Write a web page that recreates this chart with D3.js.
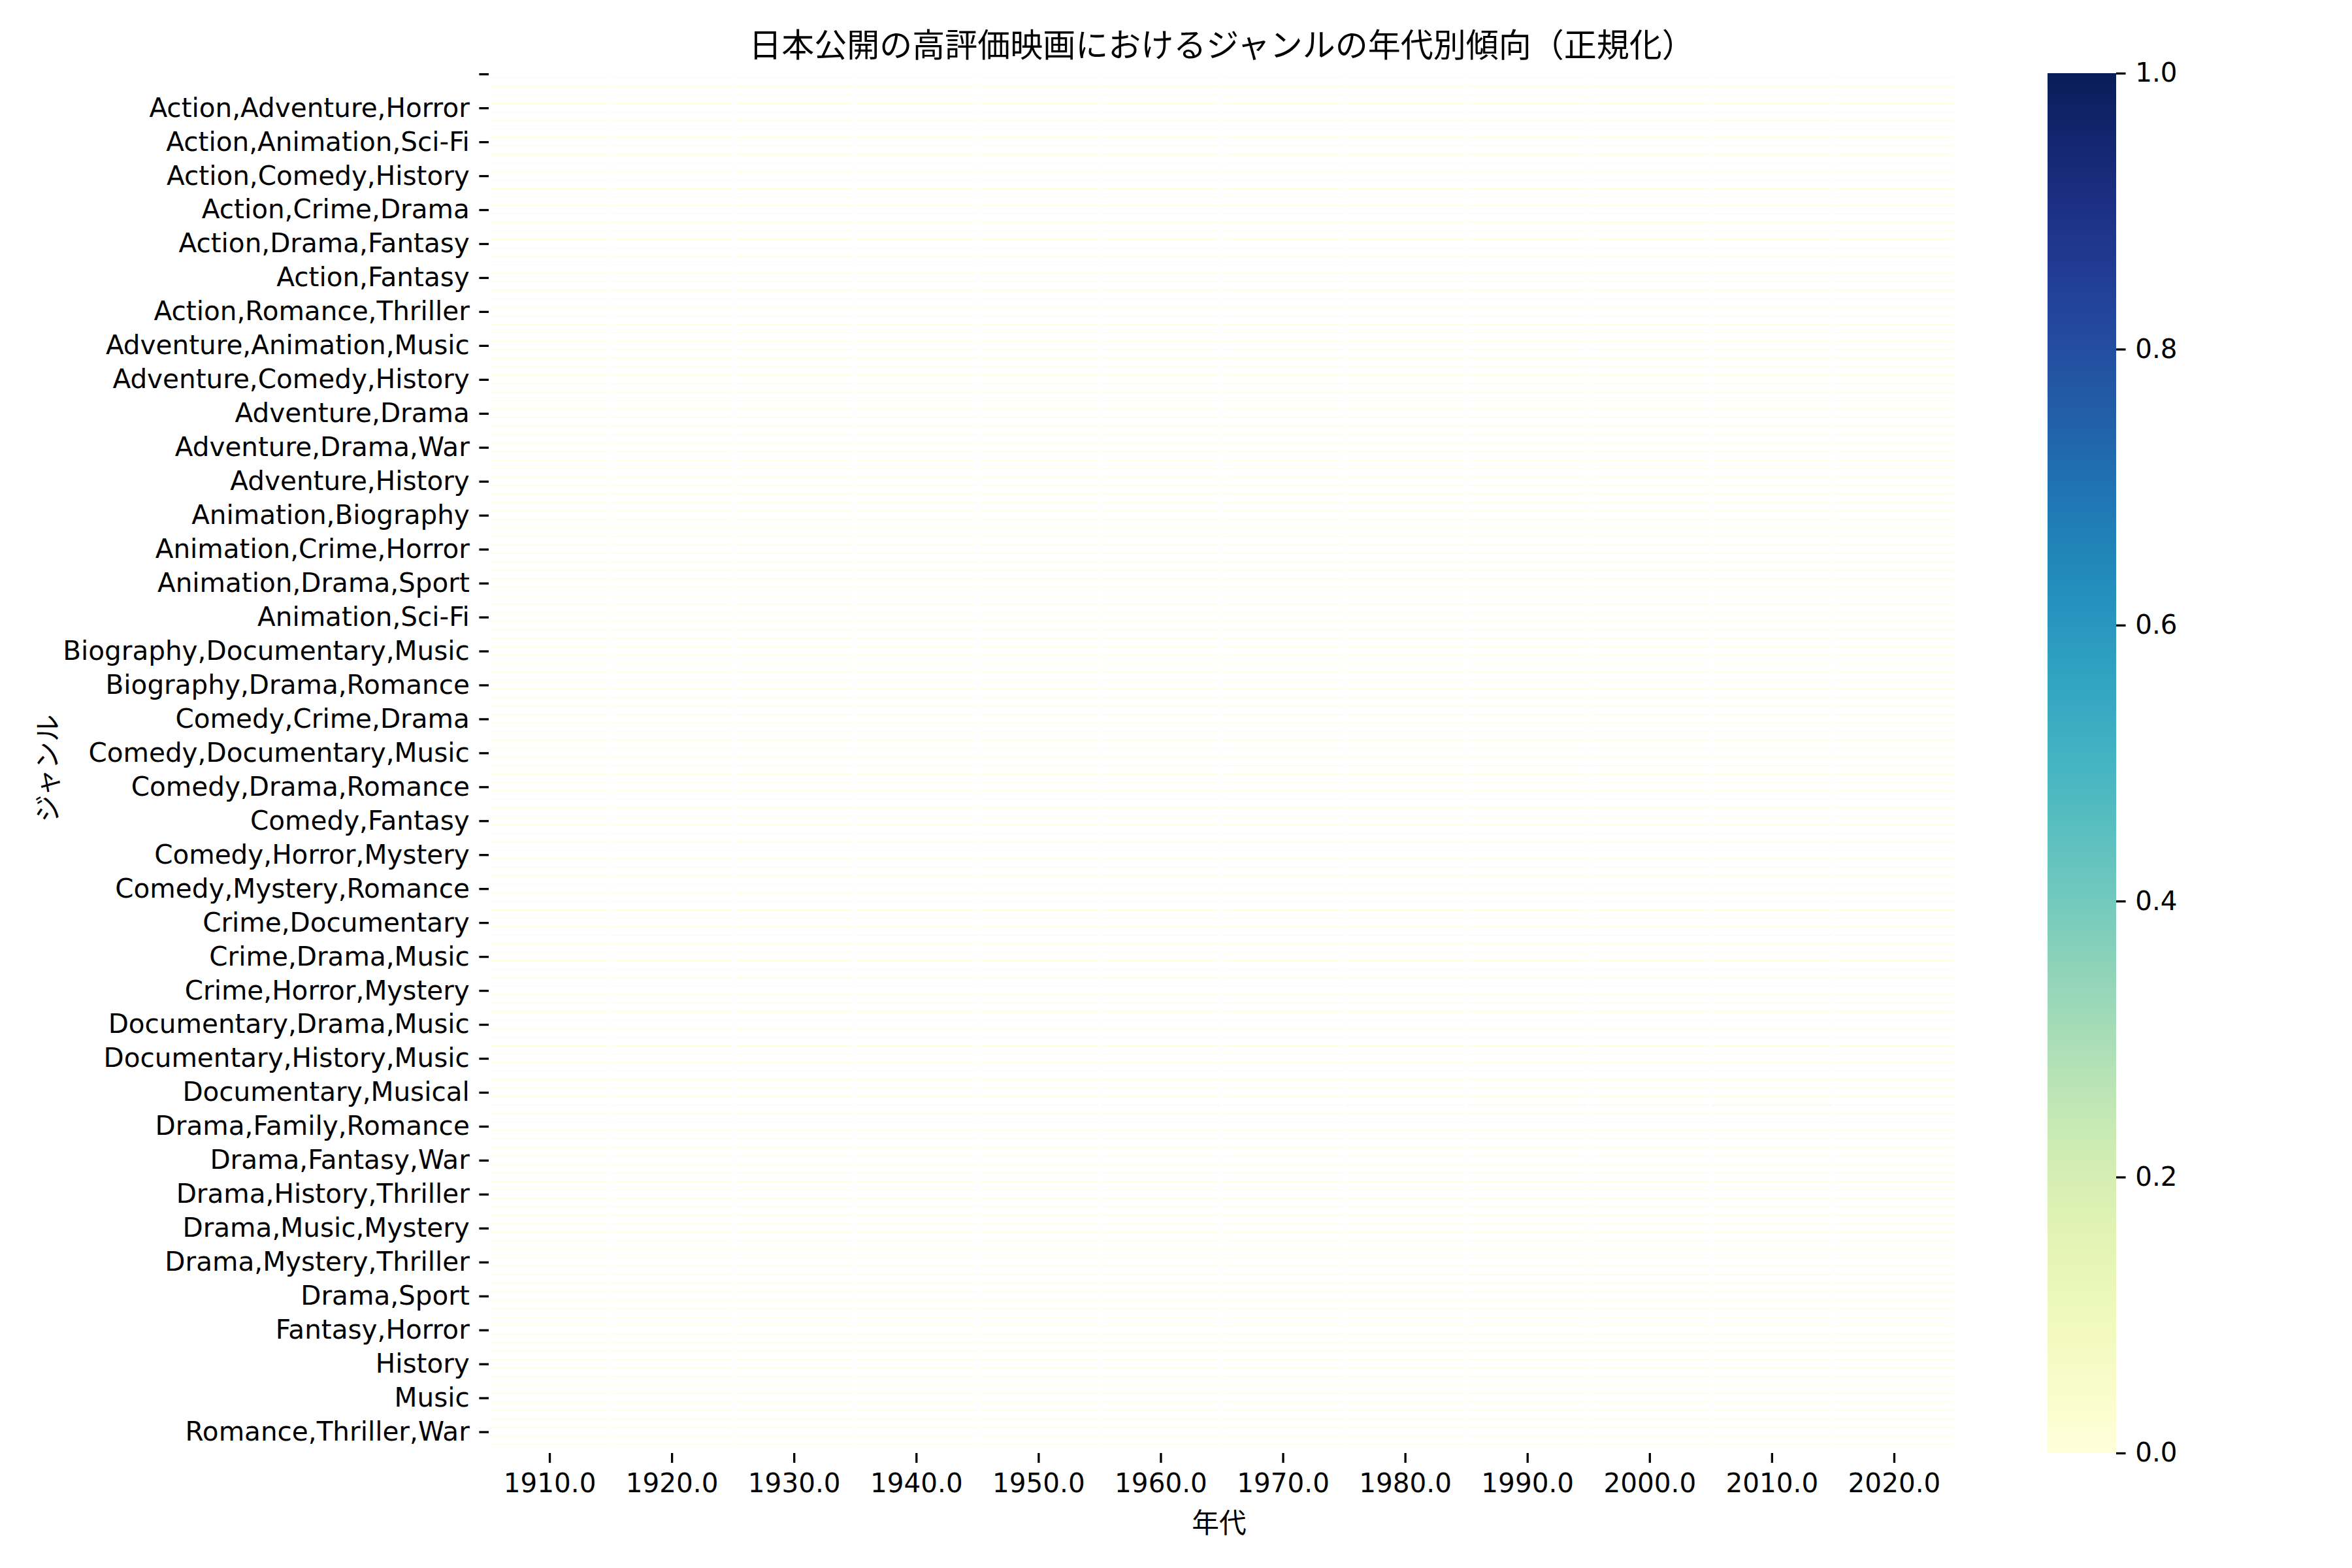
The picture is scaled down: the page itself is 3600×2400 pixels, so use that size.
<!DOCTYPE html>
<html><head><meta charset="utf-8">
<script src="https://cdn.jsdelivr.net/npm/d3@7"></script>
<style>body{margin:0;background:#fff} svg{display:block}</style>
</head><body>
<svg id="chart" width="3600" height="2400"></svg>
<script>
const title = "日本公開の高評価映画におけるジャンルの年代別傾向（正規化）";
const xLabel = "年代";
const yLabel = "ジャンル";
const decades = [1910,1920,1930,1940,1950,1960,1970,1980,1990,2000,2010,2020];
const genres = [
"","Action","Action,Adventure","Action,Adventure,Comedy",
"Action,Adventure,Horror","Action,Adventure,Sci-Fi","Action,Animation","Action,Animation,Drama",
"Action,Animation,Sci-Fi","Action,Biography,Drama","Action,Comedy","Action,Comedy,Crime",
"Action,Comedy,History","Action,Comedy,Romance","Action,Comedy,Thriller","Action,Crime",
"Action,Crime,Drama","Action,Crime,Thriller","Action,Drama","Action,Drama,Family",
"Action,Drama,Fantasy","Action,Drama,History","Action,Drama,Thriller","Action,Drama,War",
"Action,Fantasy","Action,Horror,Sci-Fi","Action,Mystery,Thriller","Action,Romance",
"Action,Romance,Thriller","Action,Sci-Fi","Action,Thriller","Adventure,Animation,Comedy",
"Adventure,Animation,Music","Adventure,Animation,Sci-Fi","Adventure,Biography,Drama","Adventure,Comedy,Drama",
"Adventure,Comedy,History","Adventure,Comedy,Romance","Adventure,Crime,Drama","Adventure,Documentary",
"Adventure,Drama","Adventure,Drama,Fantasy","Adventure,Drama,History","Adventure,Drama,Romance",
"Adventure,Drama,War","Adventure,Drama,Western","Adventure,Family,Fantasy","Adventure,Fantasy",
"Adventure,History","Adventure,Sci-Fi","Adventure,Thriller","Animation",
"Animation,Biography","Animation,Comedy","Animation,Comedy,Drama","Animation,Crime",
"Animation,Crime,Horror","Animation,Drama","Animation,Drama,Fantasy","Animation,Drama,Romance",
"Animation,Drama,Sport","Animation,Drama,War","Animation,Family","Animation,Fantasy",
"Animation,Sci-Fi","Biography","Biography,Comedy,Drama","Biography,Crime,Drama",
"Biography,Documentary,Music","Biography,Drama","Biography,Drama,History","Biography,Drama,Music",
"Biography,Drama,Romance","Biography,Drama,Sport","Comedy","Comedy,Crime",
"Comedy,Crime,Drama","Comedy,Crime,Mystery","Comedy,Documentary","Comedy,Documentary,Drama",
"Comedy,Documentary,Music","Comedy,Drama","Comedy,Drama,Family","Comedy,Drama,Music",
"Comedy,Drama,Romance","Comedy,Drama,War","Comedy,Family","Comedy,Family,Fantasy",
"Comedy,Fantasy","Comedy,Fantasy,Horror","Comedy,Horror","Comedy,Horror,Musical",
"Comedy,Horror,Mystery","Comedy,Music","Comedy,Musical","Comedy,Musical,Romance",
"Comedy,Mystery,Romance","Comedy,Romance","Comedy,Sci-Fi","Crime",
"Crime,Documentary","Crime,Drama","Crime,Drama,Film-Noir","Crime,Drama,History",
"Crime,Drama,Music","Crime,Drama,Mystery","Crime,Drama,Thriller","Crime,Horror",
"Crime,Horror,Mystery","Crime,Mystery,Thriller","Crime,Thriller","Documentary",
"Documentary,Drama,Music","Documentary,Drama,War","Documentary,Family","Documentary,History",
"Documentary,History,Music","Documentary,Horror","Documentary,Music","Documentary,Music,War",
"Documentary,Musical","Drama","Drama,Family","Drama,Family,Music",
"Drama,Family,Romance","Drama,Family,Sport","Drama,Fantasy","Drama,Fantasy,Horror",
"Drama,Fantasy,War","Drama,History","Drama,History,Music","Drama,History,Romance",
"Drama,History,Thriller","Drama,History,War","Drama,Horror","Drama,Music",
"Drama,Music,Mystery","Drama,Music,Romance","Drama,Musical","Drama,Mystery",
"Drama,Mystery,Thriller","Drama,Romance","Drama,Romance,War","Drama,Sci-Fi",
"Drama,Sport","Drama,Thriller","Drama,War","Fantasy",
"Fantasy,Horror","Fantasy,Mystery","Fantasy,Romance","Film-Noir",
"History","Horror","Horror,Mystery","Horror,Sci-Fi",
"Music","Musical","Mystery","Romance",
"Romance,Thriller,War","Western"
];
// normalized share per decade (one array per decade, one value per genre row)
const v1910 = [
0,0,0,0,0,0,0,0,0,0,0,0,0,0,0,0,0,0,
0,0,0,0,0,0,0,0,0,0,0,0,0,0,0,0,0,0,
0,0,0,0,0,0,0,0,0,0,0,0,0,0,0,0,0,0,
0,0,0,0,0,0,0,0,0,0,0,0,0,0,0,0,0,0,
0,0,0,0,0,0,0,0,0,0,0,0,0,0,0,0,0,0,
0,0,0,0,0,0,0,0,0,0,0,0,0,0,0,0,0,0,
0,0,0,0,0,0,0,0,0,0,0,0,0,0.01,0,0,0,0,
0,0,0,0,0,0,0,0,0,0,0,0,0,0,0,0,0,0,
0,0,0,0,0,0,0,0,0,0,0,0,0,0,0,0,0,0];
const v1920 = [
0,0,0,0,0,0,0,0,0,0,0,0,0,0,0,0,0,0,
0,0,0,0,0,0,0,0,0,0,0,0,0,0,0,0,0,0,
0,0,0,0,0,0,0,0,0,0,0,0,0,0,0,0,0,0,
0,0,0,0,0,0,0,0,0,0,0,0,0,0,0,0,0,0,
0,0,0,0,0,0,0,0,0,0,0,0,0,0,0,0,0,0,
0,0,0,0,0,0,0,0,0,0,0,0.01,0,0,0,0,0,0,
0,0,0,0,0,0,0,0,0,0,0,0,0,0.01,0,0,0,0,
0,0,0,0,0,0,0,0,0,0,0,0,0,0,0,0,0,0,
0,0,0,0,0,0,0,0,0,0,0,0,0,0,0,0,0,0];
const v1930 = [
0,0,0,0,0,0,0,0,0,0,0,0,0,0,0,0,0,0,
0,0,0,0,0,0,0,0,0,0,0,0,0,0,0,0,0,0,
0,0,0,0,0,0,0,0,0,0,0,0,0,0,0,0,0,0,
0,0,0,0,0,0,0,0,0,0,0,0,0,0,0,0,0,0,
0,0,0,0,0,0,0,0,0,0,0,0,0.01,0,0,0,0,0,
0,0,0,0,0,0,0,0,0,0,0,0,0,0,0,0,0,0,
0,0,0,0,0,0,0,0,0,0,0,0,0,0.02,0,0,0,0,
0,0,0,0,0,0,0,0,0,0,0,0,0,0,0,0,0,0,
0,0,0,0,0,0,0,0,0,0,0,0,0,0,0,0,0,0];
const v1940 = [
0,0,0,0,0,0,0,0,0,0,0,0,0,0,0,0,0,0,
0,0,0,0,0,0,0,0,0,0,0,0,0,0,0,0,0,0,
0,0,0,0,0,0,0,0,0,0,0,0,0,0,0,0,0,0,
0,0,0,0,0,0,0,0,0,0,0,0,0,0,0,0,0,0,
0,0,0,0,0,0,0,0,0,0,0,0,0,0,0,0,0,0,
0,0,0,0,0,0,0,0,0,0,0,0.01,0,0,0,0,0,0,
0,0,0,0,0,0,0,0,0,0,0,0,0,0.02,0,0,0,0,
0,0,0,0,0,0,0,0,0,0,0,0,0,0,0,0.01,0,0,
0,0,0,0,0,0,0,0,0,0,0,0,0,0,0,0,0,0];
const v1950 = [
0,0,0,0,0,0,0,0,0,0,0,0,0,0,0,0,0,0,
0,0,0,0,0,0,0,0,0,0,0,0,0,0,0,0,0,0,
0,0,0,0,0,0,0,0,0,0,0,0,0,0,0,0,0,0,
0,0,0,0,0,0,0,0,0,0,0,0,0,0,0,0,0,0,
0,0,0,0,0,0,0,0,0,0,0,0,0.01,0,0,0,0,0,
0,0,0,0,0,0,0,0,0,0,0,0.02,0,0,0,0,0,0,
0,0,0,0,0,0,0,0,0,0,0,0,0,0.03,0,0,0,0,
0,0,0,0,0,0,0,0,0,0,0,0,0,0,0,0.01,0,0,
0,0,0,0,0,0,0,0,0,0,0,0,0,0,0,0,0,0];
const v1960 = [
0,0,0,0,0,0,0,0,0,0,0,0,0,0,0,0,0,0,
0,0,0,0,0,0,0,0,0,0,0,0,0,0,0,0,0,0,
0,0,0,0,0,0,0,0,0,0,0,0,0,0,0,0,0,0,
0,0,0,0,0,0,0,0,0,0,0,0,0,0,0,0,0,0,
0,0,0,0,0,0,0,0,0,0,0,0,0,0,0,0,0,0,
0,0,0,0,0,0,0,0,0,0,0,0.02,0,0,0,0,0.01,0,
0,0,0,0,0,0,0,0,0,0,0,0,0,0.03,0,0,0,0,
0,0,0,0,0,0,0,0,0,0,0,0,0,0,0,0,0,0,
0,0,0,0,0,0,0,0,0,0,0,0,0,0,0,0,0,0];
const v1970 = [
0,0,0,0,0,0,0,0,0,0,0,0,0,0,0,0,0,0,
0,0,0,0,0,0,0,0,0,0,0,0,0,0,0,0,0,0,
0,0,0,0,0,0,0,0,0,0,0,0,0,0,0,0,0,0,
0,0,0,0,0,0,0,0,0,0,0,0,0,0,0,0,0,0,
0,0,0,0,0,0,0,0,0,0.01,0,0,0,0,0,0,0,0,
0,0,0,0,0,0,0,0,0,0,0,0.02,0,0,0,0,0,0,
0,0,0,0,0,0,0,0,0,0,0,0,0,0.03,0,0,0,0,
0,0,0,0,0,0,0,0,0,0,0,0,0,0,0,0,0,0,
0,0,0,0,0,0,0,0,0,0,0,0,0,0,0,0,0,0];
const v1980 = [
0,0,0,0,0,0,0,0,0,0,0,0,0,0,0,0,0,0,
0,0,0,0,0,0,0,0,0,0,0,0,0,0,0,0,0,0,
0,0,0,0,0,0,0,0,0,0,0,0,0,0,0,0,0,0,
0,0,0,0,0,0,0,0,0,0,0,0,0,0,0,0,0,0,
0,0,0,0,0,0,0,0,0,0.01,0,0,0,0,0,0,0,0,
0,0,0,0,0,0,0,0,0,0,0,0.02,0,0,0,0,0,0,
0,0,0,0,0,0,0,0,0,0,0,0,0,0.03,0,0,0,0,
0,0,0,0,0,0,0,0,0,0,0,0,0,0,0,0.01,0,0,
0,0,0,0,0,0,0,0,0,0,0,0,0,0,0,0,0,0];
const v1990 = [
0,0,0,0,0,0,0,0,0,0,0,0,0,0,0,0,0,0,
0,0,0,0,0,0,0,0,0,0,0,0,0,0,0,0,0,0,
0,0,0,0,0,0,0,0,0,0,0,0,0,0,0,0,0,0,
0,0,0,0,0,0,0,0,0,0,0,0,0,0,0,0,0,0,
0,0,0,0,0,0,0,0,0,0.02,0,0,0.01,0,0,0,0,0,
0,0,0,0,0,0,0,0,0,0,0,0.03,0,0,0,0,0,0,
0,0,0,0,0,0,0,0,0,0,0,0,0,0.04,0,0,0,0,
0,0,0,0,0,0,0,0,0,0,0,0,0,0,0,0.02,0,0,
0,0,0,0,0,0,0,0,0,0,0,0,0,0,0,0,0,0];
const v2000 = [
0,0,0,0,0,0,0,0,0,0,0,0,0,0,0,0,0,0.01,
0,0,0,0,0,0,0,0,0,0,0,0,0,0,0,0,0,0,
0,0,0,0,0,0,0,0,0,0,0,0,0,0,0,0,0,0,
0,0,0,0,0,0,0,0,0,0,0,0,0,0,0,0,0,0,
0,0,0,0,0,0,0,0,0,0.02,0,0,0,0,0,0,0,0,
0,0,0,0,0,0,0,0,0,0,0,0.03,0,0,0,0,0,0,
0,0,0,0,0,0,0,0,0,0,0,0,0,0.04,0,0,0,0,
0,0,0,0,0,0,0,0,0,0,0,0,0,0,0,0.02,0,0,
0,0,0,0,0,0,0,0,0,0,0,0,0,0,0,0,0,0];
const v2010 = [
0,0,0,0,0,0.01,0,0,0,0,0,0,0,0,0,0,0.02,0,
0,0,0,0,0,0,0,0,0,0,0,0,0,0,0,0,0,0,
0,0,0,0,0,0,0,0,0,0,0,0,0,0,0,0,0,0,
0,0,0,0,0,0,0,0,0,0,0,0,0,0,0,0,0,0,
0,0,0,0,0,0,0,0,0,0.02,0,0,0,0,0,0,0,0,
0,0,0,0,0,0,0,0,0,0,0,0.03,0,0,0,0,0,0,
0,0,0,0,0,0,0,0,0,0,0,0,0,0.05,0,0,0,0,
0,0,0,0,0,0,0,0,0,0,0,0,0,0,0,0.02,0,0,
0,0,0,0,0,0,0,0,0,0,0,0,0,0,0,0,0,0];
const v2020 = [
0,0,0,0,0,0,0,0,0,0,0,0,0,0,0,0,0.01,0,
0,0,0,0,0,0,0,0,0,0,0,0,0,0,0,0,0,0,
0,0,0,0,0,0,0,0,0,0,0,0,0,0,0,0,0,0,
0,0,0,0,0,0,0,0,0,0,0,0,0,0,0,0,0,0,
0,0,0,0,0,0,0,0,0,0,0,0,0,0,0,0,0,0,
0,0,0,0,0,0,0,0,0,0,0,0.02,0,0,0,0,0,0,
0,0,0,0,0,0,0,0,0,0,0,0,0,0.03,0,0,0,0,
0,0,0,0,0,0,0,0,0,0,0,0,0,0,0,0,0,0,
0,0,0,0,0,0,0,0,0,0,0,0,0,0,0,0,0,0];
const colorbarTicks = [0.0, 0.2, 0.4, 0.6, 0.8, 1.0];
const yLabelEvery = 4;

// ---------- drawing ----------
const series = [v1910,v1920,v1930,v1940,v1950,v1960,v1970,v1980,v1990,v2000,v2010,v2020];
const cells = [];
genres.forEach((g, i) => decades.forEach((d, j) => cells.push({g, d, v: series[j][i]})));

const LATIN = "'DejaVu Sans', 'Noto Sans CJK JP', sans-serif";
const CJK = "'Noto Sans CJK JP', 'DejaVu Sans', sans-serif";
const FS = 40.5;

const svg = d3.select("#chart");
svg.append("rect").attr("width", 3600).attr("height", 2400).attr("fill", "#fff");

const plot = {left: 748, right: 2993, top: 107.2, bottom: 2211.5, axisY: 2224};

const x = d3.scaleBand().domain(decades).range([plot.left, plot.right])
  .paddingInner(0.027).paddingOuter(0.0135);
const y = d3.scaleBand().domain(genres).range([plot.top, plot.bottom]);
const color = d3.scaleSequential(d3.interpolateYlGnBu).domain([0, 1]);

svg.append("g").selectAll("rect").data(cells).join("rect")
  .attr("x", d => x(d.d))
  .attr("width", x.bandwidth())
  .attr("y", d => y(d.g) + y.bandwidth() - 1.2)
  .attr("height", 1.2)
  .attr("fill", d => color(d.v));

// x axis
const xAxis = svg.append("g").attr("transform", `translate(0,${plot.axisY})`)
  .call(d3.axisBottom(x).tickSize(15).tickPadding(16).tickFormat(d => d.toFixed(1)));
xAxis.select(".domain").remove();
xAxis.selectAll(".tick line").attr("stroke", "#000").attr("stroke-width", 3.3);
xAxis.selectAll(".tick text").attr("font-family", LATIN).attr("font-size", FS).attr("fill", "#000");

// y axis
const yAxis = svg.append("g").attr("transform", `translate(${plot.left},0)`)
  .call(d3.axisLeft(y).tickValues(genres.filter((g, i) => i % yLabelEvery === 0))
    .tickSize(14.6).tickPadding(14.6));
yAxis.select(".domain").remove();
yAxis.selectAll(".tick line").attr("stroke", "#000").attr("stroke-width", 3.3);
yAxis.selectAll(".tick text").attr("font-family", LATIN).attr("font-size", FS).attr("fill", "#000");

// colorbar
const cb = {left: 3134, right: 3239, top: 112, bottom: 2224};
const defs = svg.append("defs");
const grad = defs.append("linearGradient").attr("id", "cbgrad")
  .attr("x1", 0).attr("y1", 1).attr("x2", 0).attr("y2", 0);
d3.range(0, 1.0001, 0.02).forEach(t => grad.append("stop")
  .attr("offset", t).attr("stop-color", color(t)));
svg.append("rect").attr("x", cb.left).attr("y", cb.top)
  .attr("width", cb.right - cb.left).attr("height", cb.bottom - cb.top)
  .attr("fill", "url(#cbgrad)");
const cy = d3.scaleLinear().domain([0, 1]).range([cb.bottom, cb.top]);
const cAxis = svg.append("g").attr("transform", `translate(${cb.right},0)`)
  .call(d3.axisRight(cy).tickValues(colorbarTicks).tickSize(14.6).tickPadding(14.6)
    .tickFormat(d3.format(".1f")));
cAxis.select(".domain").remove();
cAxis.selectAll(".tick line").attr("stroke", "#000").attr("stroke-width", 3.3);
cAxis.selectAll(".tick text").attr("font-family", LATIN).attr("font-size", FS).attr("fill", "#000");

// labels
svg.append("text").attr("x", 1870).attr("y", 87).attr("text-anchor", "middle")
  .attr("font-family", CJK).attr("font-size", 50).attr("fill", "#000").text(title);
svg.append("text").attr("x", 1866).attr("y", 2346).attr("text-anchor", "middle")
  .attr("font-family", CJK).attr("font-size", 41.7).attr("fill", "#000").text(xLabel);
svg.append("text").attr("transform", "translate(88,1176) rotate(-90)").attr("text-anchor", "middle")
  .attr("font-family", CJK).attr("font-size", 41.7).attr("fill", "#000").text(yLabel);
</script>
</body></html>
